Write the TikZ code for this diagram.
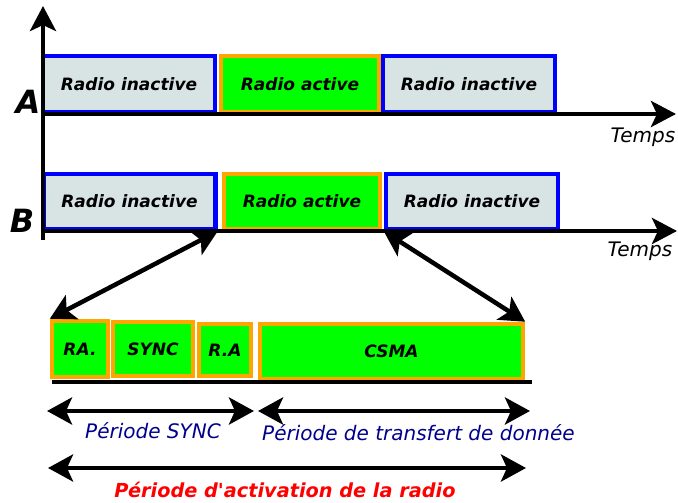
\documentclass[tikz,border=0pt]{standalone}
\usepackage{fontspec}
\setmainfont{DejaVu Sans}[Ligatures=TeXOff]
\usetikzlibrary{arrows.meta}
\definecolor{boxgray}{HTML}{D8E4E4}
\definecolor{bblue}{HTML}{0000FF}
\definecolor{bgreen}{HTML}{00FF00}
\definecolor{borange}{HTML}{FFA500}
\definecolor{navy}{HTML}{00008C}
\begin{document}
\begin{tikzpicture}[x=1pt,y=-1pt,
  inbox/.style={draw=bblue,fill=boxgray,line width=4.5pt,minimum height=56pt,minimum width=172pt,inner sep=0pt,
    font=\fontsize{17}{20}\selectfont\bfseries\itshape},
  actbox/.style={draw=borange,fill=bgreen,line width=4.5pt,minimum height=56pt,inner sep=0pt,
    font=\fontsize{17}{20}\selectfont\bfseries\itshape},
  axis/.style={line width=4.5pt,-{Stealth[length=25pt,width=26pt,inset=6pt]}},
  dbl/.style={line width=4.5pt,{Stealth[length=25pt,width=27pt,inset=6pt]}-{Stealth[length=25pt,width=27pt,inset=6pt]}},
  lbl/.style={font=\fontsize{20}{22}\selectfont\itshape},
  big/.style={font=\fontsize{32}{34}\selectfont\bfseries\itshape}
]
\useasboundingbox (0,0) rectangle (678,503);
% Row A
\node[inbox] (a1) at (129,84) {Radio inactive};
\node[actbox,minimum width=158pt] (a2) at (300,84) {Radio active};
\node[inbox] (a3) at (469,84) {Radio inactive};
% Row B
\node[inbox,minimum height=55pt] (b1) at (129.5,201.5) {Radio inactive};
\node[actbox,minimum width=156pt,minimum height=55pt] (b2) at (302,201.5) {Radio active};
\node[inbox,minimum height=55pt] (b3) at (472,201.5) {Radio inactive};
% axes
\coordinate (o) at (43,240);
\coordinate (ytop) at (43,6);
\coordinate (a0) at (41,114);
\coordinate (aend) at (676,114);
\coordinate (b0) at (41,231);
\coordinate (bend) at (677,231);
\draw[axis] (o) -- (ytop);
\draw[axis] (a0) -- (aend);
\draw[axis] (b0) -- (bend);
\node[big] (la) at (28,102) {A};
\node[big] (lb) at (22,221) {B};
\node[lbl] (ta) at (643,137) {Temps};
\node[lbl] (tb) at (640,251) {Temps};
% Detail boxes
\node[actbox,minimum width=56pt,minimum height=56pt] (ra1) at (80,349) {RA.};
\node[actbox,minimum width=80pt,minimum height=54pt] (sync) at (153,349) {SYNC};
\node[actbox,minimum width=52pt,minimum height=52pt] (ra2) at (225,350) {R.A};
\node[actbox,minimum width=263pt,minimum height=55pt] (csma) at (391.5,351.5) {CSMA};
\coordinate (d0) at (52,382);
\coordinate (d1) at (532,382);
\draw[line width=3.5pt] (d0) -- (d1);
% zoom arrows
\draw[dbl] (b1.south east) -- (ra1.north west);
\draw[dbl] (b3.south west) -- (csma.north east);
% periods
\coordinate (s0) at (47,411);
\coordinate (s1) at (254,411);
\coordinate (t0) at (258,411);
\coordinate (t1) at (530,411);
\coordinate (r0) at (48,468);
\coordinate (r1) at (526,468);
\draw[dbl] (s0) -- (s1);
\draw[dbl] (t0) -- (t1);
\draw[dbl] (r0) -- (r1);
\node[lbl,text=navy] (ps) at (153,431) {Période SYNC};
\node[lbl,text=navy,anchor=west,inner sep=0pt] (pt) at (262,433) {Période de transfert de donnée};
\node[font=\fontsize{19.3}{22}\selectfont\bfseries\itshape,text=red] (pa) at (285,490) {Période d'activation de la radio};
\end{tikzpicture}
\end{document}
